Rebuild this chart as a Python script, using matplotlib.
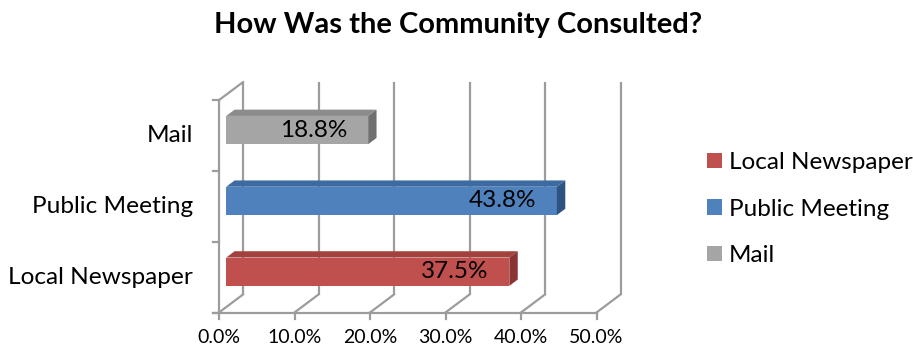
import matplotlib
matplotlib.use("Agg")
import matplotlib.pyplot as plt

# ---- data ----
categories = ["Local Newspaper", "Public Meeting", "Mail"]
values = [37.5, 43.8, 18.8]
value_labels = ["37.5%", "43.8%", "18.8%"]
x_ticks = [0, 10, 20, 30, 40, 50]
x_tick_labels = ["0.0%", "10.0%", "20.0%", "30.0%", "40.0%", "50.0%"]
title = "How Was the Community Consulted?"

# ---- style ----
front_cols = ["#C0504D", "#4F81BD", "#A5A5A5"]
top_cols = ["#A3413E", "#3E6AA2", "#8C8C8C"]
side_cols = ["#8A3533", "#2F5380", "#707070"]
grid_col = "#9C9C9C"
plt.rcParams["font.family"] = ["Lato", "DejaVu Sans"]

W, H, DPI = 913, 351, 100
fig = plt.figure(figsize=(W / DPI, H / DPI), dpi=DPI)
ax = fig.add_axes([0, 0, 1, 1])
ax.set_axis_off()

# pixel mapping: x_px = X0 + SX * x ; y_px_from_bottom = Y0 + SY * y
X0, SX = 219.0, 7.55
Y0, SY = 38.5, 70.8
ax.set_xlim(-X0 / SX, (W - X0) / SX)
ax.set_ylim(-Y0 / SY, (H - Y0) / SY)

DX = 24 / SX   # depth offset in data units
DY = 18 / SY
ncat = len(categories)
lw = 1.6

# back gridlines and floor diagonals
for xt in x_ticks:
    ax.plot([xt + DX, xt + DX], [DY, ncat + DY], color=grid_col, lw=lw, zorder=1,
            solid_capstyle="butt")
    ax.plot([xt, xt + DX], [0, DY], color=grid_col, lw=lw, zorder=1)
    ax.plot([xt, xt], [0, -6 / SY], color=grid_col, lw=lw, zorder=1)
# front floor edge
ax.plot([-6 / SX, x_ticks[-1]], [0, 0], color=grid_col, lw=lw, zorder=1)
# left front axis + ticks
ax.plot([0, 0], [0, ncat], color=grid_col, lw=lw, zorder=1)
for k in range(ncat + 1):
    ax.plot([-6 / SX, 0], [k, k], color=grid_col, lw=lw, zorder=1)
ax.plot([0, DX], [ncat, ncat + DY], color=grid_col, lw=lw, zorder=1)

# 3D bars
f, d, bh = 0.3, 0.35, 0.4
handles = []
for i, (cat, v) in enumerate(zip(categories, values)):
    yc = i + 0.5 + f * DY
    x0 = f * DX
    b = ax.barh(yc, v, left=x0, height=bh, color=front_cols[i], zorder=3,
                edgecolor="none", label=cat)
    handles.append(b)
    top = yc + bh / 2
    bot = yc - bh / 2
    ax.fill([x0, x0 + v, x0 + v + d * DX, x0 + d * DX],
            [top, top, top + d * DY, top + d * DY],
            color=top_cols[i], zorder=3, lw=0)
    ax.fill([x0 + v, x0 + v, x0 + v + d * DX, x0 + v + d * DX],
            [bot, top, top + d * DY, bot + d * DY],
            color=side_cols[i], zorder=3, lw=0)
    ax.text(x0 + v - 21 / SX, yc, value_labels[i], ha="right", va="center",
            fontsize=17.5, color="black", zorder=4)
    ax.text(-26 / SX, i + 0.5, cat, ha="right", va="center", fontsize=17.6)

for xt, lab in zip(x_ticks, x_tick_labels):
    ax.text(xt, -25 / SY, lab, ha="center", va="center", fontsize=14)

fig.text(458 / W, 1 - 25 / H, title, ha="center", va="center", fontsize=21,
         fontweight="bold")

fig.legend(handles=handles, labels=categories, loc="center left",
           bbox_to_anchor=(697 / W, 1 - 209 / H), frameon=False, fontsize=17.5,
           handlelength=0.62, handleheight=0.62, handletextpad=0.3,
           labelspacing=1.05, borderaxespad=0)

fig.savefig("out.png", dpi=DPI)
